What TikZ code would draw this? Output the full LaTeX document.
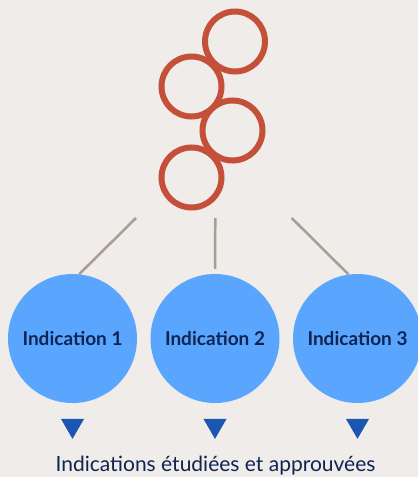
\documentclass[tikz,border=0pt]{standalone}
\usepackage{fontspec}
\setmainfont{Lato}
\usepackage{tikz}
\usetikzlibrary{shapes.geometric}

\definecolor{paper}{HTML}{F0ECE9}
\definecolor{ringred}{HTML}{C4503A}
\definecolor{indicblue}{HTML}{5AA5FE}
\definecolor{markblue}{HTML}{1C56B3}
\definecolor{navy}{HTML}{0E2452}
\definecolor{linkgray}{HTML}{A79E94}

\tikzset{
    ring/.style={shape=circle, draw=ringred, line width=6pt, minimum size=60pt, inner sep=0pt},
    indic/.style={shape=circle, fill=indicblue, minimum size=129pt, inner sep=0pt,
        text=navy, font=\bfseries\fontsize{19}{19}\selectfont},
    marker/.style={regular polygon, regular polygon sides=3, shape border rotate=180,
        fill=markblue, minimum size=26.6pt, inner sep=0pt},
    link/.style={draw=linkgray, line width=2.5pt}}

\begin{document}
\begin{tikzpicture}[x=1pt, y=-1pt]

    \fill[paper] (0,0) rectangle (418,477);
    \useasboundingbox (0,0) rectangle (418,477);

    \node[ring] (R1) at (235,41.5) {};
    \node[ring] (R2) at (191.5,86.5) {};
    \node[ring] (R3) at (232.5,130.5) {};
    \node[ring] (R4) at (191.5,177.5) {};

    \node[indic] (I1) at (72.5,338.5) {Indication 1};
    \node[indic] (I2) at (215,338.5) {Indication 2};
    \node[indic] (I3) at (357.5,338.5) {Indication 3};

    \coordinate (H1) at (136,218);
    \coordinate (H2) at (215.3,218);
    \coordinate (H3) at (291.7,218);

    \draw[link] (H1) -- (I1.84);
    \draw[link, shorten >=5pt] (H2) -- (I2.north);
    \draw[link] (H3) -- (I3.98);

    \node[marker] (T1) at (72.5,425.6) {};
    \node[marker] (T2) at (215,425.6) {};
    \node[marker] (T3) at (357.5,425.6) {};

    \node[anchor=base, text=navy, font=\fontsize{21}{21}\selectfont] (L) at (215.5,471) {Indications étudiées et approuvées};

\end{tikzpicture}
\end{document}
